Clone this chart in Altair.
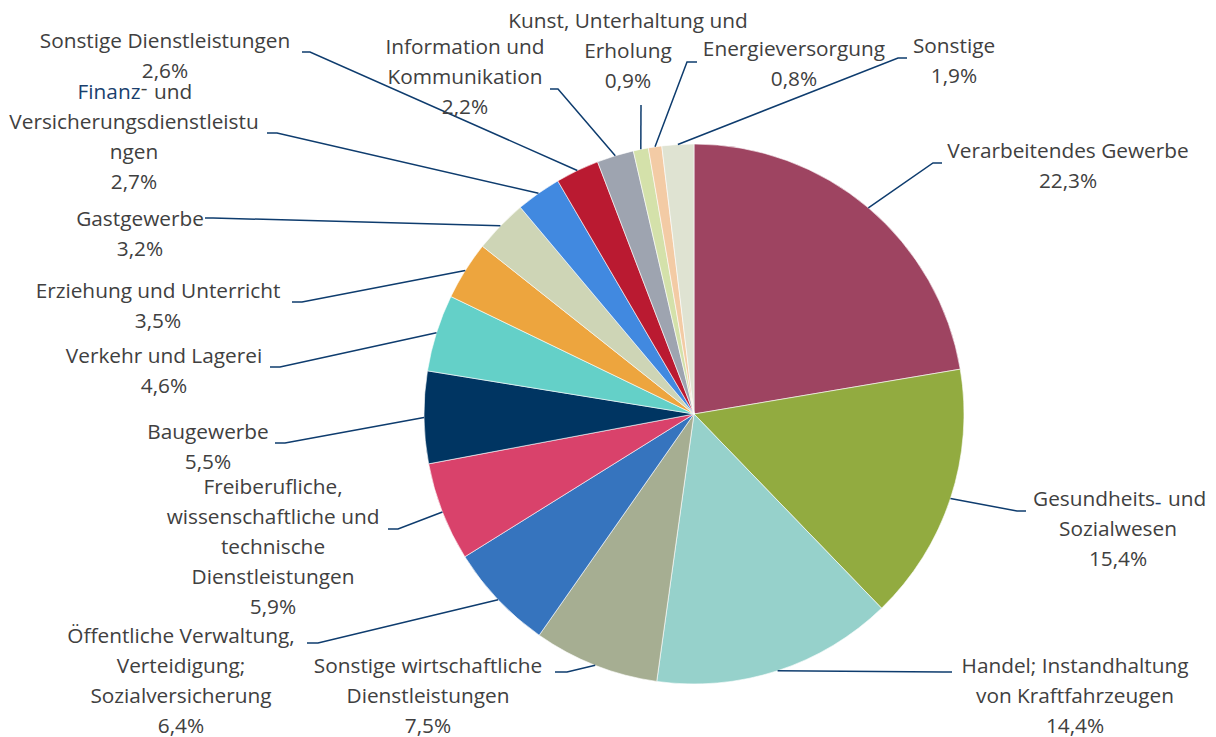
import altair as alt
import pandas as pd
import numpy as np

# ---------------- data ----------------
names = [
    "Verarbeitendes Gewerbe", "Gesundheits- und Sozialwesen",
    "Handel; Instandhaltung von Kraftfahrzeugen",
    "Sonstige wirtschaftliche Dienstleistungen",
    "Öffentliche Verwaltung, Verteidigung; Sozialversicherung",
    "Freiberufliche, wissenschaftliche und technische Dienstleistungen",
    "Baugewerbe", "Verkehr und Lagerei", "Erziehung und Unterricht",
    "Gastgewerbe", "Finanz- und Versicherungsdienstleistungen",
    "Sonstige Dienstleistungen", "Information und Kommunikation",
    "Kunst, Unterhaltung und Erholung", "Energieversorgung", "Sonstige",
]
values = [22.3, 15.4, 14.4, 7.5, 6.4, 5.9, 5.5, 4.6, 3.5, 3.2, 2.7, 2.6, 2.2, 0.9, 0.8, 1.9]
colors = [
    "#9E4461", "#92AB40", "#96D1CB", "#A6AE92", "#3674BE", "#D9426B",
    "#003562", "#64D0C8", "#EDA53E", "#CED5B6", "#4189E0", "#BA1A31",
    "#9EA4B0", "#D4E1AA", "#F3CBA5", "#DFE3D2",
]
label_lines = [
    ["Verarbeitendes  Gewerbe"],
    ["Gesundheits- und", "Sozialwesen"],
    ["Handel; Instandhaltung", "von Kraftfahrzeugen"],
    ["Sonstige wirtschaftliche", "Dienstleistungen"],
    ["Öffentliche Verwaltung,", "Verteidigung;", "Sozialversicherung"],
    ["Freiberufliche,", "wissenschaftliche und", "technische", "Dienstleistungen"],
    ["Baugewerbe"],
    ["Verkehr und Lagerei"],
    ["Erziehung und Unterricht"],
    ["Gastgewerbe"],
    ["Finanz- und", "Versicherungsdienstleistu", "ngen"],
    ["Sonstige Dienstleistungen"],
    ["Information und", "Kommunikation"],
    ["Kunst, Unterhaltung und", "Erholung"],
    ["Energieversorgung"],
    ["Sonstige"],
]

# ---------------- layout (page pixels) ----------------
OFF = 8
CX, CY, R = 694, 414, 270
LINE_H = 30
label_anchor = [
    (1068, 152), (1118, 500), (1075, 667), (428, 667), (181, 637), (273, 488),
    (208, 433), (164, 357), (158, 292), (140, 220), (134, 93), (165, 42),
    (465, 48), (628, 22), (794, 50), (954, 47),
]
leader_elbow = [
    (933, 163), (1017, 511), (943, 672), (567, 672), (318, 643), (398, 529),
    (285, 443), (280, 367), (302, 302), (213, 218), (277, 133), (310, 52),
    (558, 89), (641, 105), (687, 62), (898, 58),
]
leader_end = [
    (942, 163), (1026, 511), (952, 672), (555, 672), (307, 643), (388, 529),
    (275, 443), (270, 367), (292, 302), (205, 218), (267, 133), (302, 52),
    (550, 89), (641, 105), (697, 62), (907, 58),
]
TEXT_COLOR = "#404040"
LINK_COLOR = "#1A3F6E"
LEADER_COLOR = "#0E3C6E"
# label lines drawn in pieces (text, colour, dx, dy from the line's centre)
split_lines = {
    "Finanz- und": [("Finanz", LINK_COLOR, -25, 0), ("-", TEXT_COLOR, 10, -4), ("und", TEXT_COLOR, 39, 0)],
    "Gesundheits- und": [("Gesundheits", TEXT_COLOR, -24, 0), ("-", LINK_COLOR, 40, 3), ("und", TEXT_COLOR, 69, 0)],
}

# ---------------- tables ----------------
pie_df = pd.DataFrame({"name": names, "value": values, "idx": range(len(names))})

vals = np.array(values)
total = vals.sum()
mid = (np.cumsum(vals) - vals / 2) / total * 2 * np.pi
sx = CX + R * np.sin(mid)
sy = CY - R * np.cos(mid)

line_rows = []
for i, n in enumerate(names):
    pts = [(sx[i], sy[i]), leader_elbow[i], leader_end[i]]
    for k, (px, py) in enumerate(pts):
        line_rows.append({"name": n, "pt": k, "px": px - OFF, "py": py - OFF})
line_df = pd.DataFrame(line_rows)

text_rows = []
for i, n in enumerate(names):
    cx, y0 = label_anchor[i]
    lines = label_lines[i] + [f"{values[i]:.1f}".replace(".", ",") + "%"]
    for j, t in enumerate(lines):
        y = y0 + j * LINE_H - OFF
        if t in split_lines:
            for seg, col, dx, dy in split_lines[t]:
                text_rows.append({"px": cx + dx - OFF, "py": y + dy, "t": seg, "c": col})
        else:
            text_rows.append({"px": cx - OFF, "py": y, "t": t, "c": TEXT_COLOR})
text_df = pd.DataFrame(text_rows)

# ---------------- chart ----------------
pie = alt.Chart(pie_df).mark_arc(outerRadius=R, stroke="white", strokeWidth=0.6).encode(
    theta=alt.Theta("value:Q", stack=True),
    order=alt.Order("idx:Q"),
    color=alt.Color("name:N", scale=alt.Scale(domain=names, range=colors), legend=None),
    x=alt.value(CX - OFF),
    y=alt.value(CY - OFF),
)

leaders = alt.Chart(line_df).mark_line(color=LEADER_COLOR, strokeWidth=1.5).encode(
    x=alt.X("px:Q", scale=None, axis=None),
    y=alt.Y("py:Q", scale=None, axis=None),
    detail="name:N",
    order="pt:Q",
)

labels = alt.Chart(text_df).mark_text(
    font="Open Sans", fontSize=20.8, align="center", baseline="middle"
).encode(
    x=alt.X("px:Q", scale=None, axis=None),
    y=alt.Y("py:Q", scale=None, axis=None),
    text="t:N",
    color=alt.Color("c:N", scale=None),
)

chart = alt.layer(pie, leaders, labels).properties(
    width=1200, height=729, padding=0,
    autosize=alt.AutoSizeParams(type="none"),
    background="white",
).configure_view(stroke=None)

chart.save("out.html", embed_options={"renderer": "svg", "actions": False})
